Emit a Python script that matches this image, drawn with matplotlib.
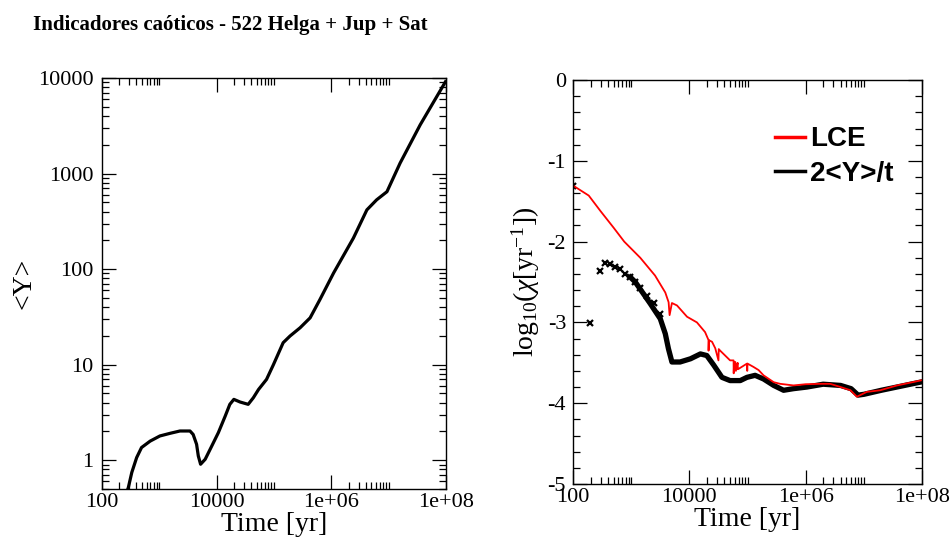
import numpy as np
import matplotlib
matplotlib.use("Agg")
import matplotlib.pyplot as plt
from matplotlib.ticker import FixedLocator, FixedFormatter, LogLocator, MultipleLocator, NullFormatter

plt.rcParams['font.family'] = ['Liberation Serif', 'DejaVu Serif']
plt.rcParams['mathtext.fontset'] = 'custom'
plt.rcParams['mathtext.rm'] = 'Liberation Serif'
plt.rcParams['mathtext.it'] = 'Liberation Serif:italic'

# ---------------- data ----------------
title = "Indicadores caóticos - 522 Helga + Jup + Sat"

# left panel: <Y> vs time  (log10 values)
left_log_t = [2.44, 2.46, 2.52, 2.605, 2.69, 2.84, 3.01, 3.19, 3.36, 3.535, 3.59,
              3.65, 3.68, 3.72, 3.80, 3.915, 4.03, 4.15, 4.23, 4.30, 4.41, 4.55,
              4.64, 4.73, 4.87, 4.99, 5.16, 5.28, 5.455, 5.63, 5.80, 6.04, 6.385,
              6.62, 6.79, 6.97, 7.2, 7.55, 7.99]
left_log_Y = [-0.32, -0.285, -0.128, 0.028, 0.133, 0.20, 0.254, 0.282, 0.306, 0.306,
              0.27, 0.167, 0.045, -0.042, 0.01, 0.149, 0.289, 0.463, 0.585, 0.637,
              0.609, 0.585, 0.654, 0.74, 0.846, 1.0, 1.23, 1.30, 1.386, 1.49, 1.68,
              1.96, 2.325, 2.62, 2.725, 2.81, 3.11, 3.51, 3.96]

# right panel: LCE (red)
lce_log_t = [2.0, 2.27, 2.47, 2.70, 2.88, 3.156, 3.41, 3.586, 3.643, 3.66, 3.70, 3.787,
             3.96, 4.13, 4.27, 4.33, 4.33, 4.335, 4.39, 4.445, 4.50, 4.505, 4.53,
             4.70, 4.76, 4.762, 4.77, 4.79, 4.80, 4.83, 4.835, 4.99, 4.995, 5.0,
             5.10, 5.19, 5.275, 5.45, 5.56, 5.79, 6.0, 6.25, 6.42, 6.60, 6.77,
             6.88, 7.05, 7.28, 7.57, 8.0]
lce_val = [-1.306, -1.43, -1.62, -1.83, -2.0, -2.2, -2.42, -2.63, -2.75, -2.91, -2.76,
           -2.79, -2.93, -3.0, -3.12, -3.22, -3.35, -3.22, -3.24, -3.32, -3.47,
           -3.33, -3.35, -3.47, -3.47, -3.63, -3.49, -3.49, -3.60, -3.50, -3.58,
           -3.51, -3.60, -3.51, -3.55, -3.59, -3.655, -3.74, -3.76, -3.78, -3.765,
           -3.76, -3.76, -3.80, -3.84, -3.92, -3.86, -3.84, -3.78, -3.715]

# right panel: 2<Y>/t (black) – isolated early samples
chi_early_log_t = [2.0, 2.30, 2.457, 2.555, 2.64, 2.727, 2.81, 2.90, 2.985, 3.07,
                   3.157, 3.27, 3.385, 3.50]
chi_early_val = [-1.306, -3.01, -2.366, -2.27, -2.28, -2.31, -2.34, -2.40, -2.44,
                 -2.50, -2.58, -2.67, -2.76, -2.90]

# right panel: 2<Y>/t (black) – dense part
chi_log_t = [2.985, 3.07, 3.157, 3.33, 3.50, 3.586, 3.64,
             3.70, 3.84, 4.02, 4.19, 4.30, 4.42, 4.56, 4.70, 4.875, 4.99, 5.13,
             5.275, 5.45, 5.62, 5.79, 6.02, 6.3, 6.6, 6.78, 6.90, 7.0, 7.3, 7.7, 8.0]
chi_val = [-2.44, -2.50, -2.59, -2.77, -2.955, -3.14,
           -3.325, -3.49, -3.49, -3.45, -3.39, -3.41, -3.53, -3.68, -3.72, -3.72,
           -3.68, -3.655, -3.70, -3.78, -3.84, -3.82, -3.80, -3.765, -3.78, -3.82,
           -3.90, -3.89, -3.84, -3.78, -3.735]

x_ticks = [1e2, 1e4, 1e6, 1e8]
x_ticklabels = ["100", "10000", "1e+06", "1e+08"]
left_yticks = [1, 10, 100, 1000, 10000]
left_yticklabels = ["1", "10", "100", "1000", "10000"]
right_yticks = [0, -1, -2, -3, -4, -5]
right_yticklabels = ["0", "-1", "-2", "-3", "-4", "-5"]

# ---------------- figure ----------------
fig = plt.figure(figsize=(9.53, 5.5), dpi=100)
axL = fig.add_axes([0.1070, 0.1109, 0.3610, 0.7473])
axR = fig.add_axes([0.6013, 0.1200, 0.3662, 0.7345])

tick_fs = 16
label_fs = 20

x_minor = [k * 10.0 ** m for m in (2, 4, 6) for k in range(2, 11)]

def style_x(ax):
    ax.set_xscale('log')
    ax.set_xlim(1e2, 1e8)
    ax.xaxis.set_major_locator(FixedLocator(x_ticks))
    ax.xaxis.set_major_formatter(FixedFormatter(x_ticklabels))
    ax.xaxis.set_minor_locator(FixedLocator(x_minor))
    ax.xaxis.set_minor_formatter(NullFormatter())
    ax.tick_params(which='both', direction='in', top=True, right=True, width=0.9)
    ax.tick_params(which='major', length=10, labelsize=tick_fs)
    ax.tick_params(which='minor', length=5)
    ax.tick_params(axis='x', which='major', pad=3)
    ax.set_xlabel("Time [yr]", fontsize=label_fs, labelpad=0)
    for s in ax.spines.values():
        s.set_linewidth(1.0)

# left panel
axL.plot(10 ** np.array(left_log_t), 10 ** np.array(left_log_Y), color='black', lw=2.3,
         solid_joinstyle='round')
style_x(axL)
axL.set_yscale('log')
axL.set_ylim(0.5, 10000)
axL.yaxis.set_major_locator(FixedLocator(left_yticks))
axL.yaxis.set_major_formatter(FixedFormatter(left_yticklabels))
axL.yaxis.set_minor_locator(LogLocator(base=10, subs=np.arange(2, 10)))
axL.yaxis.set_minor_formatter(NullFormatter())
axL.tick_params(axis='y', which='major', pad=6)
axL.set_ylabel("<Y>", fontsize=label_fs, labelpad=1)

# right panel
axR.plot(10 ** np.array(chi_log_t), chi_val, color='black', lw=3.8,
         solid_joinstyle='round', label='2<Y>/t')
axR.plot(10 ** np.array(chi_early_log_t), chi_early_val, ls='none', marker='x',
         color='black', ms=4, mew=1.6)
axR.plot(10 ** np.array(lce_log_t), lce_val, color='red', lw=1.3, label='LCE')
style_x(axR)
axR.set_ylim(-5, 0)
axR.yaxis.set_major_locator(FixedLocator(right_yticks))
axR.yaxis.set_major_formatter(FixedFormatter(right_yticklabels))
axR.yaxis.set_minor_locator(MultipleLocator(0.2))
axR.tick_params(axis='y', which='major', pad=5)
axR.set_ylabel(r"log$_{10}$($\chi$[yr$^{-1}$])", fontsize=label_fs, labelpad=4)

h, l = axR.get_legend_handles_labels()
leg = axR.legend([h[1], h[0]], [l[1], l[0]], loc='upper left',
                 bbox_to_anchor=(0.58, 0.885), frameon=False,
                 prop={'family': 'Liberation Sans', 'weight': 'bold', 'size': 20},
                 handlelength=1.05, handletextpad=0.2, labelspacing=0.3,
                 borderpad=0, borderaxespad=0)
for line in leg.get_lines():
    line.set_linewidth(2.5)

fig.text(0.035, 1 - 30 / 550, title, fontsize=15, fontweight='bold',
         family='Liberation Serif', va='baseline', ha='left')

fig.savefig("out.png", dpi=100)
